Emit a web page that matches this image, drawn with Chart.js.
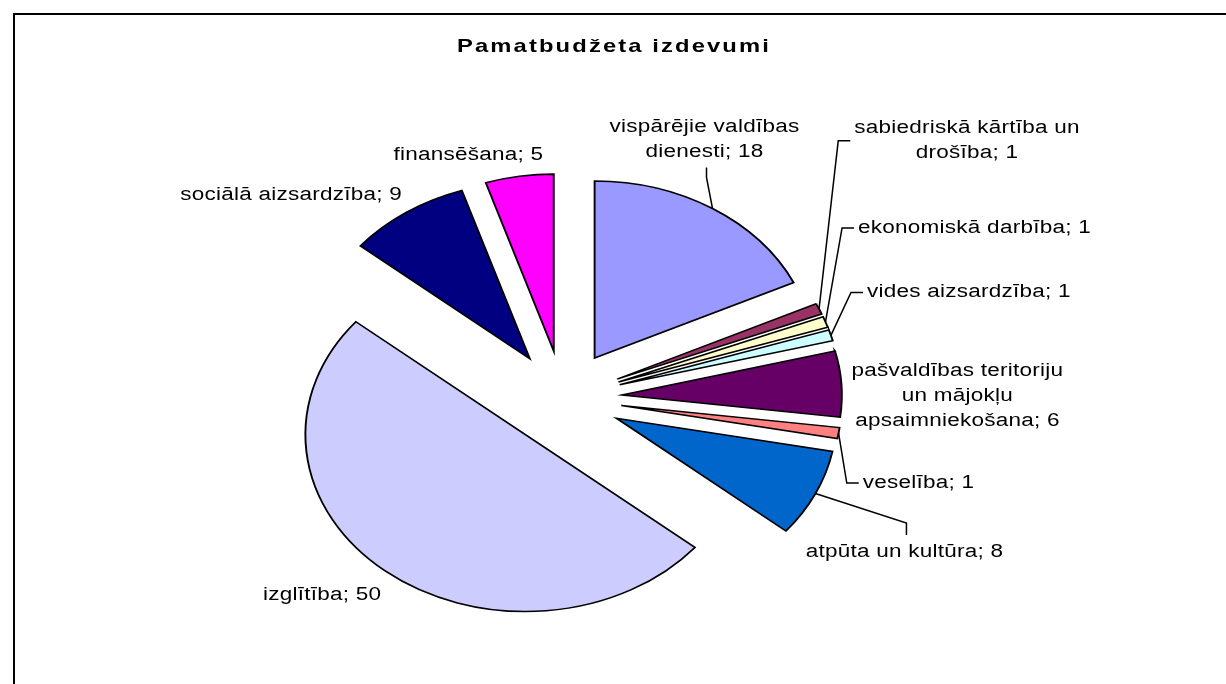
<!DOCTYPE html>
<html>
<head>
<meta charset="utf-8">
<script src="https://cdn.jsdelivr.net/npm/chart.js@4.4.1/dist/chart.umd.min.js"></script>
<style>
  html, body { margin: 0; padding: 0; background: #fff; }
  #wrap { width: 1226px; height: 684px; }
</style>
</head>
<body>
<div id="wrap"><canvas id="budzets" width="1226" height="684"></canvas></div>
<script>
// dati
const chartTitle = "Pamatbudžeta izdevumi";
const categories = [
  "vispārējie valdības dienesti",
  "sabiedriskā kārtība un drošība",
  "ekonomiskā darbība",
  "vides aizsardzība",
  "pašvaldības teritoriju un mājokļu apsaimniekošana",
  "veselība",
  "atpūta un kultūra",
  "izglītība",
  "sociālā aizsardzība",
  "finansēšana"
];
const values = [18, 1, 1, 1, 6, 1, 8, 50, 9, 5];
const sliceColors = [
  "#9999FF", "#993366", "#FFFFCC", "#CCFFFF", "#660066",
  "#FF8080", "#0066CC", "#CCCCFF", "#000080", "#FF00FF"
];

// izkārtojums
const RADIUS = 220;       // horizontālais rādiuss
const SQUASH = 0.8045;    // diagramma ir izstiepta platumā
const EXPLODE = 59;       // sektoru atvirzījums
const TEXT_STRETCH = 1.25;
const FONT = '"Liberation Sans", Arial, sans-serif';
const LINE_H = 25;
const WRAP = 238;
// etiķešu novirze no sektora loka vidus punkta
const labelNudge = [
  [-8, -69], [148, -168], [149, -94], [138, -43], [116, 12],
  [80, 50], [89, 58], [-63, 24], [-115, -17], [-51, -21]
];
// kur pievienot vadlīniju: left / bottom / top / none
const leaderKind = ["bottom", "left", "left", "left", "none", "left", "top", "none", "none", "none"];

function setText(ctx, bold, size, spacing) {
  ctx.font = (bold ? "bold " : "") + size + "px " + FONT;
  ctx.letterSpacing = spacing + "px";
}

function textWidth(ctx, s) {
  return ctx.measureText(s).width * TEXT_STRETCH;
}

function drawStretched(ctx, s, x, y) {
  ctx.save();
  ctx.translate(x, y);
  ctx.scale(TEXT_STRETCH, 1);
  ctx.fillText(s, 0, 0);
  ctx.restore();
}

function wrapLines(ctx, s) {
  const words = s.split(" ");
  const lines = [];
  let cur = "";
  words.forEach((w) => {
    const test = cur ? cur + " " + w : w;
    if (cur && textWidth(ctx, test) > WRAP) {
      lines.push(cur);
      cur = w;
    } else {
      cur = test;
    }
  });
  lines.push(cur);
  return lines;
}

const explodedPie = {
  id: "explodedPie",
  beforeDraw(chart) {
    const ctx = chart.ctx;
    ctx.save();
    ctx.strokeStyle = "#000";
    ctx.lineWidth = 2;
    ctx.strokeRect(14, 14, 1400, 900);
    ctx.restore();
  },
  beforeDatasetsDraw(chart) {
    const ctx = chart.ctx;
    const meta = chart.getDatasetMeta(0);
    meta.data.forEach((arc) => {
      const mid = (arc.startAngle + arc.endAngle) / 2;
      ctx.save();
      ctx.translate(arc.x, arc.y);
      ctx.scale(1, SQUASH);
      ctx.translate(Math.cos(mid) * EXPLODE - arc.x, Math.sin(mid) * EXPLODE - arc.y);
      arc.draw(ctx);
      ctx.restore();
    });
    return false;
  },
  afterDraw(chart) {
    const ctx = chart.ctx;
    const meta = chart.getDatasetMeta(0);

    // virsraksts
    ctx.save();
    ctx.fillStyle = "#000";
    ctx.textAlign = "center";
    ctx.textBaseline = "middle";
    setText(ctx, true, 19, 1.7);
    drawStretched(ctx, chartTitle, 614, 47);
    ctx.restore();

    ctx.save();
    setText(ctx, false, 18, 0.2);
    ctx.fillStyle = "#000";
    ctx.strokeStyle = "#000";
    ctx.lineWidth = 1.5;
    ctx.textAlign = "center";
    ctx.textBaseline = "middle";
    meta.data.forEach((arc, i) => {
      const mid = (arc.startAngle + arc.endAngle) / 2;
      const r = arc.outerRadius + EXPLODE;
      const px = arc.x + Math.cos(mid) * r;
      const py = arc.y + Math.sin(mid) * r * SQUASH;
      const lx = px + labelNudge[i][0];
      const ly = py + labelNudge[i][1];
      const lines = wrapLines(ctx, categories[i] + "; " + values[i]);
      const maxW = Math.max(...lines.map((l) => textWidth(ctx, l)));
      const top = ly - (lines.length * LINE_H) / 2 + 4;
      const bottom = ly + (lines.length * LINE_H) / 2 - 4;
      const left = lx - maxW / 2;

      ctx.beginPath();
      if (leaderKind[i] === "left") {
        ctx.moveTo(px, py);
        ctx.lineTo(left - 16, ly);
        ctx.lineTo(left - 4, ly);
      } else if (leaderKind[i] === "bottom") {
        ctx.moveTo(px, py);
        ctx.lineTo(lx + 2, bottom + 17);
        ctx.lineTo(lx + 2, bottom + 7);
      } else if (leaderKind[i] === "top") {
        ctx.moveTo(px, py);
        ctx.lineTo(lx + 2, top - 20);
        ctx.lineTo(lx + 2, top - 8);
      }
      ctx.stroke();

      lines.forEach((l, k) => {
        const y = ly + (k - (lines.length - 1) / 2) * LINE_H;
        drawStretched(ctx, l, lx, y);
      });
    });
    ctx.restore();
  }
};

new Chart(document.getElementById("budzets"), {
  type: "pie",
  data: {
    labels: categories,
    datasets: [{
      data: values,
      backgroundColor: sliceColors,
      borderColor: "#000",
      borderWidth: 1.9,
      borderJoinStyle: "miter"
    }]
  },
  options: {
    responsive: false,
    devicePixelRatio: 1,
    animation: false,
    radius: RADIUS,
    layout: { padding: { left: 0, right: 100, top: 112, bottom: 0 } },
    plugins: {
      legend: { display: false },
      tooltip: { enabled: false },
      title: { display: false }
    }
  },
  plugins: [explodedPie]
});
</script>
</body>
</html>
